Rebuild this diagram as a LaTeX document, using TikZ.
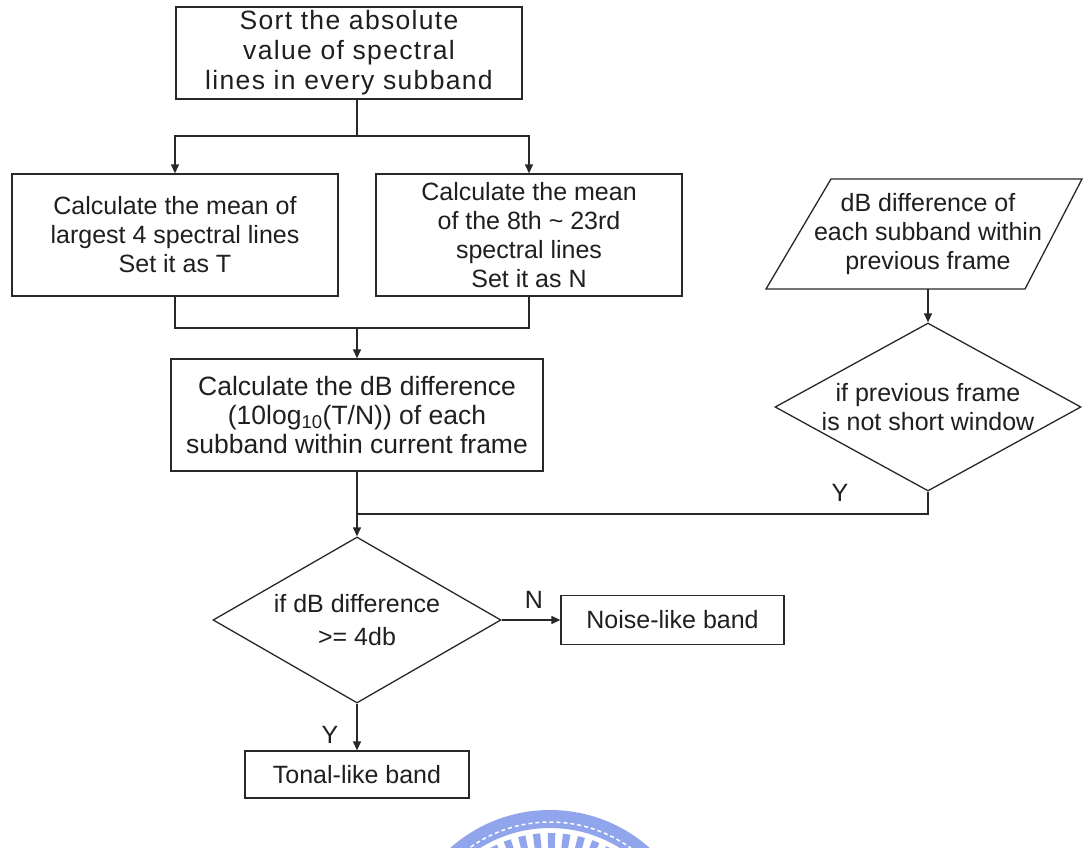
\documentclass[tikz,border=0pt]{standalone}
\usepackage{fontspec}
\setmainfont{Liberation Sans}
\usetikzlibrary{arrows.meta,shapes.geometric}
\definecolor{lncol}{RGB}{40,40,40}
\definecolor{wmblue}{RGB}{145,165,236}
\begin{document}
\begin{tikzpicture}[x=1pt,y=-1pt,
  every node/.style={font=\fontsize{25}{29}\selectfont, text=black!88},
  box/.style={draw=lncol, line width=1.3pt, align=center, inner sep=0pt},
  dia/.style={draw=lncol, line width=1.3pt, diamond, inner sep=0pt},
  ln/.style={draw=lncol, line width=1.3pt},
  arr/.style={ln, -{Triangle[length=9pt,width=8pt]}},
  txt/.style={align=center, inner sep=0pt}
]
\useasboundingbox[fill=white] (0,0) rectangle (1084,847);

% watermark
\coordinate (wm) at (550,960);
\draw[wmblue, line width=18pt] ([shift={(45:141pt)}]wm) arc[start angle=45,end angle=135,radius=141pt];
\draw[white, line width=1.5pt, dash pattern=on 4pt off 3pt] ([shift={(45:138pt)}]wm) arc[start angle=45,end angle=135,radius=138pt];
\draw[wmblue, line width=18pt, dash pattern=on 7pt off 7pt] ([shift={(40:118pt)}]wm) arc[start angle=40,end angle=140,radius=118pt];

% nodes
\node[box, minimum width=346pt, minimum height=92pt, font={\fontsize{26.5}{30}\selectfont\addfontfeatures{LetterSpace=5}}] (sort) at (349,53) {Sort the absolute\\value of spectral\\lines in every subband};
\node[box, minimum width=326pt, minimum height=122pt] (left) at (175,235) {Calculate the mean of\\largest 4 spectral lines\\Set it as T};
\node[box, minimum width=306pt, minimum height=122pt] (mid) at (529,235) {Calculate the mean\\of the 8th \textasciitilde{} 23rd\\spectral lines\\Set it as N};
\node[box, minimum width=372pt, minimum height=112pt, font=\fontsize{26.5}{29}\selectfont] (calc) at (357,415) {Calculate the dB difference\\(10log\textsubscript{10}(T/N)) of each\\subband within current frame};
\node[dia, minimum width=288pt, minimum height=166pt] (d1) at (357,620) {};
\node[txt, font=\fontsize{25}{33}\selectfont] (d1t) at (d1) {if dB difference\\>= 4db};
\node[box, minimum width=223pt, minimum height=49pt] (noise) at (672.5,620) {Noise-like band};
\node[box, minimum width=224pt, minimum height=47pt] (tonal) at (357,774.5) {Tonal-like band};
\node[txt, minimum width=250pt, minimum height=110pt] (par) at (928,234) {dB difference of\\each subband within\\previous frame};
\draw[ln] (766,289) -- (1025,289) -- (1082,179) -- (831,179) -- cycle;
\node[dia, minimum width=306pt, minimum height=168pt] (d2) at (928,407) {};
\node[txt] (d2t) at (d2) {if previous frame\\is not short window};

% connectors
\coordinate (j1) at (357,136);
\coordinate (j2) at (357,328);
\coordinate (j3) at (357,514);
\draw[ln] (sort.south -| j1) -- (j1);
\draw[arr] (j1) -| (left.north);
\draw[arr] (j1) -| (mid.north);
\draw[ln] (left.south) |- (j2);
\draw[ln] (mid.south) |- (j2);
\draw[arr] (j2) -- (calc.north);
\draw[arr] (calc.south) -- (d1.north);
\draw[arr] (par.south) -- (d2.north);
\draw[ln] (d2.south) |- (j3);
\node (ly2) at (840,493) {Y};
\draw[arr] (d1.east) -- (noise.west);
\node (ln1) at (534,600) {N};
\draw[arr] (d1.south) -- (tonal.north);
\node (ly1) at (330,735) {Y};
\end{tikzpicture}
\end{document}
